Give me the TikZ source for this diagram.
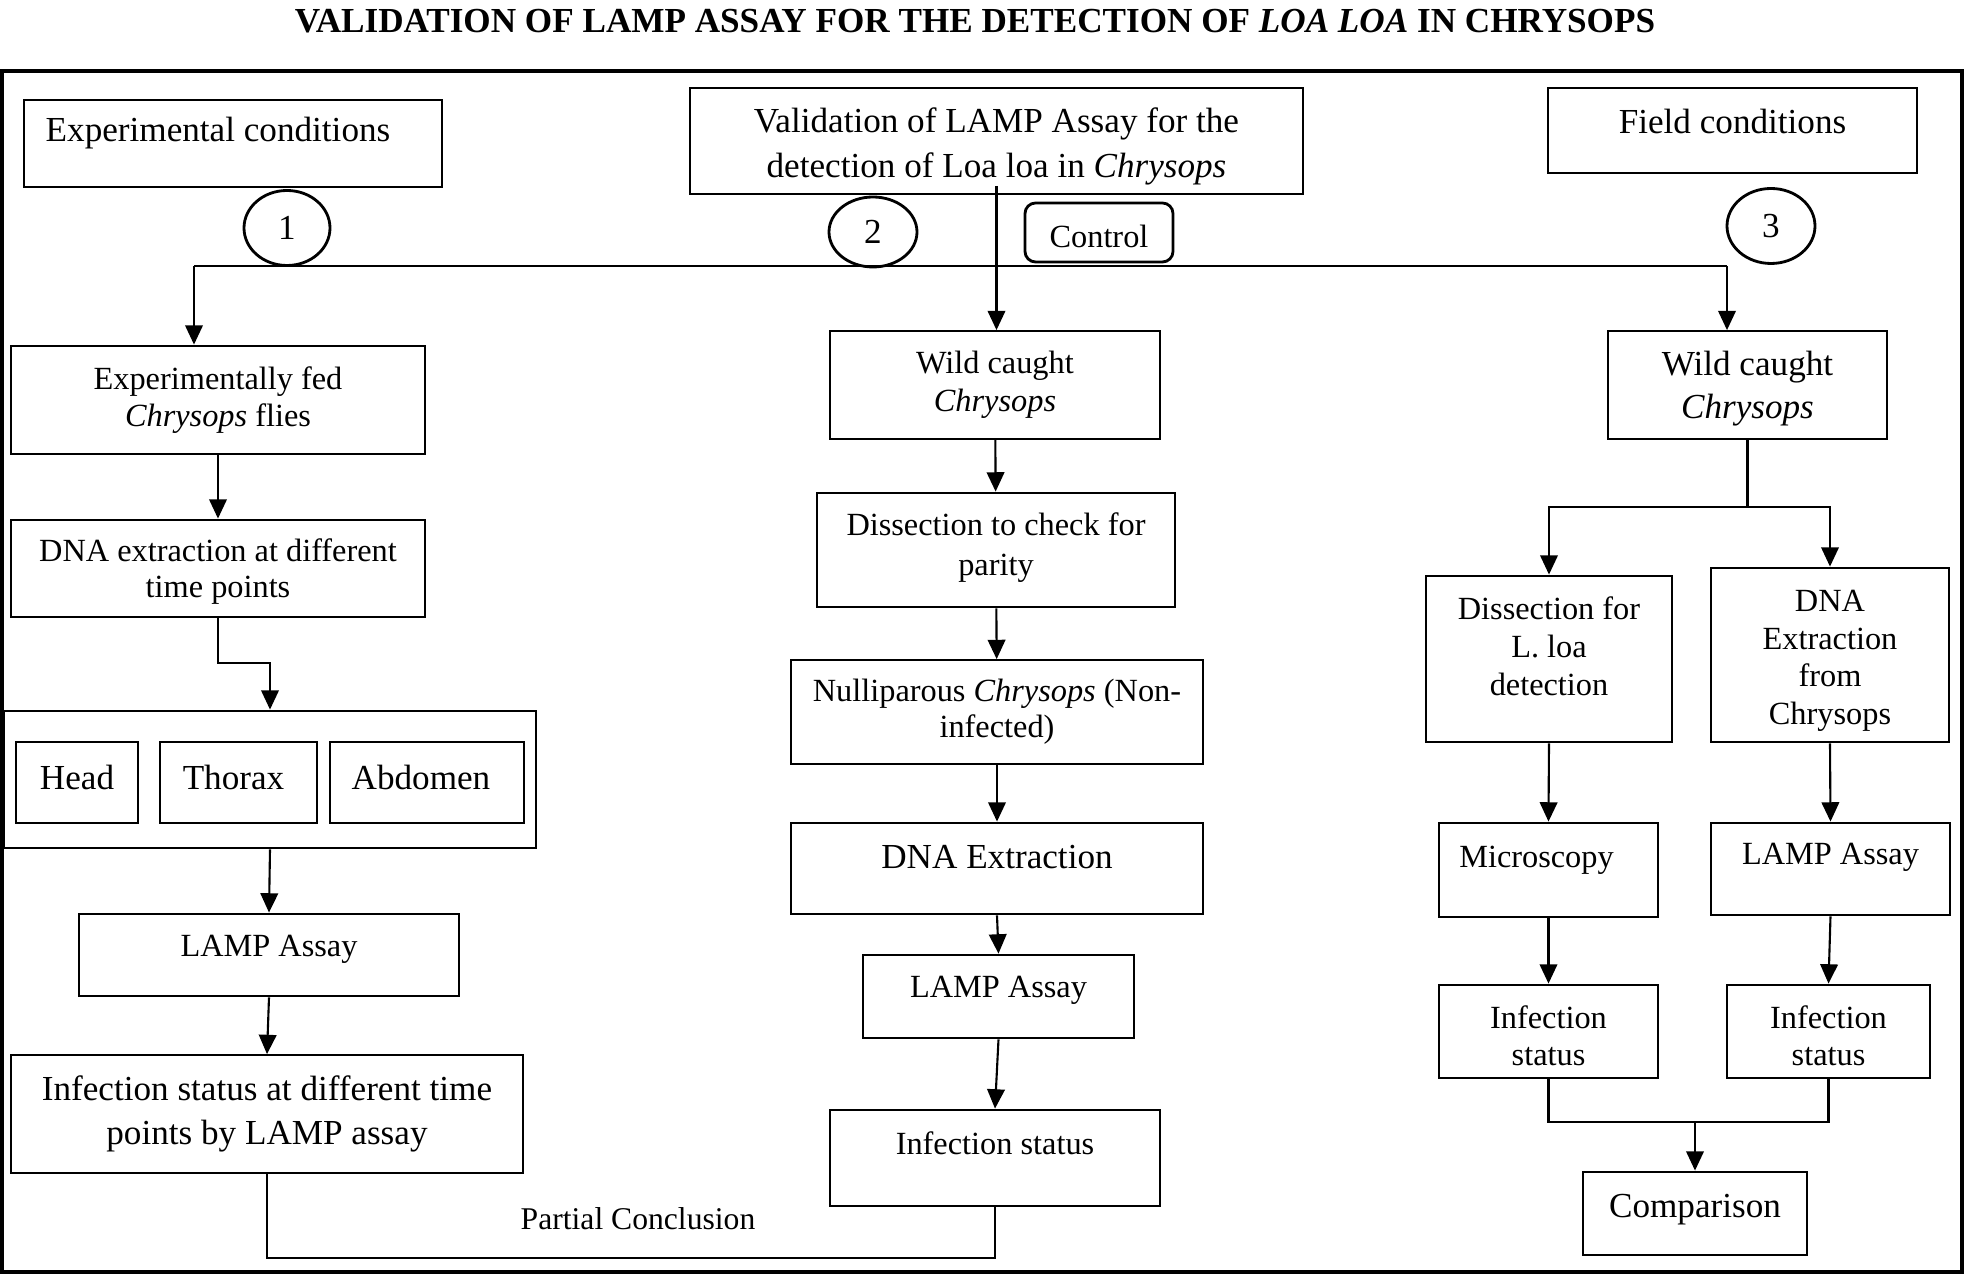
\documentclass[tikz,border=0pt]{standalone}
\usepackage{fontspec}
\setmainfont{Liberation Serif}
\usepackage{tikz}
\usetikzlibrary{positioning,calc}
\usetikzlibrary{shapes.geometric}
\usetikzlibrary{arrows.meta}

\begin{document}
\begin{tikzpicture}[y=-1cm,
        box/.style={draw, line width=0.8pt, align=center, inner xsep=1pt, inner ysep=2pt, font=\fontsize{10}{11}\selectfont},
        thinbox/.style={box, line width=0.5pt},
        lift/.style={text depth=#1},
        drop/.style={text height=#1},
        lead/.style={font=\fontsize{10}{#1}\selectfont},
        smallfont/.style={font=\fontsize{9.2}{#1}\selectfont},
        num/.style={draw, ellipse, line width=0.8pt, inner sep=0pt, font=\fontsize{10}{12}\selectfont},
        link/.style={line width=0.6pt},
        arr/.style={link, -{Triangle[length=5.5pt,width=5pt]}}]
    \useasboundingbox (0,0) rectangle (19.65,12.74);
    \draw[line width=1.1pt] (0.02,0.71) rectangle (19.62,12.72);
    \node[font=\bfseries\fontsize{10}{12}\selectfont] (title) at (9.75,0.21) {VALIDATION OF LAMP ASSAY FOR THE DETECTION OF \textit{LOA LOA} IN CHRYSOPS};
    % headers
    \node[box, minimum width=4.18cm, minimum height=0.87cm, lift=8.2pt] (expc) at (2.33,1.435) {Experimental conditions\hspace*{0.3cm}};
    \node[thinbox, minimum width=6.13cm, minimum height=1.06cm, lead=12.8, drop=23.2pt] (valid) at (9.965,1.41) {Validation of LAMP Assay for the\\detection of Loa loa in \textit{Chrysops}};
    \node[thinbox, minimum width=3.69cm, minimum height=0.85cm, lift=5pt] (field) at (17.325,1.305) {Field conditions};
    \node[num, minimum width=0.86cm, minimum height=0.75cm] (c1) at (2.87,2.28) {1};
    \node[num, minimum width=0.88cm, minimum height=0.70cm] (c2) at (8.73,2.32) {2};
    \node[num, minimum width=0.88cm, minimum height=0.75cm] (c3) at (17.71,2.26) {3};
    \node[box, rounded corners=3pt, minimum width=1.48cm, minimum height=0.59cm, font=\fontsize{9.2}{11}\selectfont, drop=8.5pt] (ctrl) at (10.99,2.325) {Control};
    % experimental branch
    \node[box, minimum width=4.14cm, minimum height=1.08cm, smallfont=10.5] (fed) at (2.18,4.00) {Experimentally fed\\\textit{Chrysops} flies};
    \node[box, minimum width=4.14cm, minimum height=0.97cm, smallfont=10.3, lift=0pt] (dnat) at (2.18,5.685) {DNA extraction at different\\time points};
    \node[box, minimum width=5.32cm, minimum height=1.37cm] (parts) at (2.70,7.795) {};
    \node[box, minimum width=1.22cm, minimum height=0.81cm, lift=3.2pt] (head) at (0.77,7.825) {Head};
    \node[box, minimum width=1.57cm, minimum height=0.81cm, lift=3.2pt] (thorax) at (2.385,7.825) {Thorax\hspace*{0.1cm}};
    \node[box, minimum width=1.94cm, minimum height=0.81cm, lift=3.2pt] (abdomen) at (4.27,7.825) {Abdomen\hspace*{0.12cm}};
    \node[box, minimum width=3.80cm, minimum height=0.82cm, smallfont=11, lift=5.5pt] (lampL) at (2.69,9.55) {LAMP Assay};
    \node[thinbox, minimum width=5.12cm, minimum height=1.18cm, lead=12.5] (infL) at (2.67,11.14) {Infection status at different time\\points by LAMP assay};
    % control branch
    \node[thinbox, minimum width=3.30cm, minimum height=1.08cm, smallfont=10.7] (wildM) at (9.95,3.85) {Wild caught\\\textit{Chrysops}};
    \node[box, minimum width=3.58cm, minimum height=1.14cm, smallfont=11.4, lift=3.4pt] (dissM) at (9.96,5.50) {Dissection to check for\\parity};
    \node[thinbox, minimum width=4.12cm, minimum height=1.04cm, smallfont=10.3] (nullM) at (9.97,7.12) {Nulliparous \textit{Chrysops} (Non-\\infected)};
    \node[box, minimum width=4.12cm, minimum height=0.91cm, lift=6.6pt] (dnaM) at (9.97,8.685) {DNA Extraction};
    \node[box, minimum width=2.71cm, minimum height=0.83cm, smallfont=11, lift=5.4pt] (lampM) at (9.985,9.965) {LAMP Assay};
    \node[box, minimum width=3.30cm, minimum height=0.96cm, smallfont=11, lift=8.6pt] (infM) at (9.95,11.58) {Infection status};
    \node[font=\fontsize{9}{11}\selectfont] (pc) at (6.38,12.19) {Partial Conclusion};
    % field branch
    \node[thinbox, minimum width=2.79cm, minimum height=1.08cm, lead=12.1, drop=21.1pt] (wildR) at (17.475,3.85) {Wild caught\\\textit{Chrysops}};
    \node[box, minimum width=2.46cm, minimum height=1.66cm, smallfont=10.9, lift=7.4pt] (dissR) at (15.49,6.59) {Dissection for\\L. loa\\detection};
    \node[box, minimum width=2.38cm, minimum height=1.74cm, smallfont=10.7, drop=41.5pt] (dnaR) at (18.30,6.55) {DNA\\Extraction\\from\\Chrysops};
    \node[box, minimum width=2.19cm, minimum height=0.94cm, smallfont=11, lift=7.4pt] (microR) at (15.485,8.70) {Microscopy\hspace*{0.24cm}};
    \node[box, minimum width=2.39cm, minimum height=0.92cm, smallfont=11, lift=8.6pt] (lampR) at (18.305,8.69) {LAMP Assay};
    \node[box, minimum width=2.19cm, minimum height=0.93cm, smallfont=10.7, drop=19.7pt] (infR1) at (15.485,10.315) {Infection\\status};
    \node[box, minimum width=2.03cm, minimum height=0.93cm, smallfont=10.7, drop=19.7pt] (infR2) at (18.285,10.315) {Infection\\status};
    \node[box, minimum width=2.24cm, minimum height=0.83cm, lift=4.2pt] (comp) at (16.95,12.135) {Comparison};
    % connectors
    \coordinate (barL) at (1.94,2.66);
    \coordinate (barR) at (17.27,2.66);
    \coordinate (mergeR) at (16.95,11.22);
    \draw[link] (barL) -- (barR);
    \draw[arr] (barL) -- (barL |- fed.north);
    \draw[arr] (barR) -- (barR |- wildR.north);
    \draw[arr] ([yshift=0.09cm]valid.south) -- (valid.south |- wildM.north);
    \draw[arr] (fed) -- (dnat);
    \draw[arr] (dnat.south) -- ++(0,0.45) -| (parts.north);
    \draw[arr] (parts.south) -- (lampL.north);
    \draw[arr] (lampL.south) -- (infL.north);
    \draw[link] (infL.south) -- ++(0,0.84) -| (infM.south);
    \draw[arr] (wildM) -- (dissM);
    \draw[arr] (dissM) -- (nullM);
    \draw[arr] (nullM) -- (dnaM);
    \draw[arr] (dnaM.south) -- (lampM.north);
    \draw[arr] (lampM.south) -- (infM.north);
    \draw[arr] (wildR.south) -- ++(0,0.67) -| (dissR.north);
    \draw[arr] (wildR.south) -- ++(0,0.67) -| (dnaR.north);
    \draw[arr] (dissR.south) -- (microR.north);
    \draw[arr] (microR) -- (infR1);
    \draw[arr] (dnaR.south) -- (lampR.north);
    \draw[arr] (lampR.south) -- (infR2.north);
    \draw[link] (infR1.south) |- (mergeR) -| (infR2.south);
    \draw[arr] (mergeR) -- (comp.north);
\end{tikzpicture}
\end{document}
